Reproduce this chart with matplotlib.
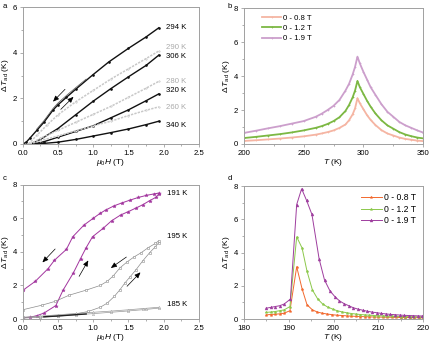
import matplotlib
matplotlib.use("Agg")
import matplotlib.pyplot as plt
from matplotlib.ticker import MultipleLocator

plt.rcParams['font.family'] = ['Liberation Sans', 'DejaVu Sans']
plt.rcParams['mathtext.fontset'] = 'custom'
plt.rcParams['mathtext.rm'] = 'Liberation Sans'
plt.rcParams['mathtext.it'] = 'Liberation Sans:italic'
plt.rcParams['mathtext.bf'] = 'Liberation Sans:bold'

# ---------------- Panel a data ----------------
a_294_H = [0.0, 0.05, 0.1, 0.2, 0.3, 0.43, 0.5, 0.62, 0.75, 1.0, 1.22, 1.5, 1.75, 1.93]
a_294_T = [0.0, 0.08, 0.25, 0.6, 0.95, 1.49, 1.72, 2.05, 2.4, 3.05, 3.6, 4.2, 4.7, 5.1]
a_294d_H = [0.2, 0.3, 0.43, 0.5, 0.62, 0.75, 0.9]
a_294d_T = [0.66, 1.02, 1.56, 1.8, 2.13, 2.47, 2.85]
a_290_H = [0.08, 0.2, 0.35, 0.5, 0.75, 1.0, 1.25, 1.5, 1.75, 1.93]
a_290_T = [0.0, 0.38, 0.85, 1.28, 1.85, 2.35, 2.85, 3.3, 3.75, 4.08]
a_306_H = [0.12, 0.25, 0.5, 0.75, 1.0, 1.25, 1.5, 1.75, 1.93]
a_306_T = [0.0, 0.2, 0.68, 1.28, 1.88, 2.43, 2.95, 3.45, 3.9]
a_280_H = [0.1, 0.25, 0.5, 0.75, 1.0, 1.25, 1.5, 1.75, 1.93]
a_280_T = [0.0, 0.25, 0.6, 0.95, 1.3, 1.65, 2.05, 2.45, 2.75]
a_320_H = [0.15, 0.3, 0.5, 0.75, 1.0, 1.25, 1.5, 1.75, 1.93]
a_320_T = [0.0, 0.1, 0.3, 0.55, 0.8, 1.15, 1.5, 1.9, 2.2]
a_260_H = [0.1, 0.25, 0.5, 0.75, 1.0, 1.25, 1.5, 1.75, 1.93]
a_260_T = [0.0, 0.15, 0.35, 0.58, 0.8, 1.0, 1.25, 1.48, 1.63]
a_340_H = [0.2, 0.5, 0.75, 1.0, 1.25, 1.5, 1.75, 1.93]
a_340_T = [0.0, 0.08, 0.2, 0.35, 0.5, 0.66, 0.85, 1.0]
a_labels = ["294 K", "290 K", "306 K", "280 K", "320 K", "260 K", "340 K"]
a_label_y = [5.1, 4.22, 3.86, 2.73, 2.34, 1.59, 0.8]

# ---------------- Panel b data ----------------
b_T = [200, 210, 220, 230, 240, 250, 260, 265, 270, 275, 280, 285, 288, 291, 293, 295,
       297, 300, 303, 306, 310, 315, 320, 325, 330, 335, 340, 345, 350]
b_08 = [0.18, 0.22, 0.27, 0.32, 0.38, 0.45, 0.55, 0.62, 0.7, 0.8, 0.95, 1.15, 1.4, 1.75, 2.1, 2.7,
        2.4, 2.05, 1.7, 1.42, 1.12, 0.82, 0.62, 0.5, 0.38, 0.3, 0.25, 0.2, 0.17]
b_12 = [0.35, 0.42, 0.5, 0.58, 0.68, 0.8, 0.95, 1.05, 1.18, 1.35, 1.58, 1.95, 2.3, 2.75, 3.15, 3.72,
        3.35, 2.95, 2.55, 2.2, 1.8, 1.4, 1.1, 0.9, 0.7, 0.56, 0.46, 0.38, 0.33]
b_19 = [0.65, 0.78, 0.92, 1.05, 1.2, 1.35, 1.6, 1.78, 2.0, 2.25, 2.6, 3.15, 3.55, 4.1, 4.55, 5.15,
        4.75, 4.25, 3.8, 3.35, 2.9, 2.35, 1.9, 1.6, 1.3, 1.1, 0.95, 0.8, 0.67]
legend_labels = ["0 - 0.8 T", "0 - 1.2 T", "0 - 1.9 T"]

# ---------------- Panel c data ----------------
c191_up_H = [0.0, 0.1, 0.2, 0.3, 0.47, 0.57, 0.72, 0.82, 0.9, 0.99, 1.14, 1.26, 1.39, 1.5, 1.6,
             1.7, 1.8, 1.89, 1.93]
c191_up_T = [0.08, 0.1, 0.2, 0.35, 0.8, 1.7, 2.76, 3.6, 4.25, 4.9, 5.4, 5.85, 6.2, 6.4, 6.6,
             6.8, 7.05, 7.25, 7.45]
c191_dn_H = [1.93, 1.86, 1.75, 1.64, 1.52, 1.41, 1.3, 1.18, 1.1, 1.0, 0.87, 0.71, 0.62, 0.45,
             0.36, 0.18, 0.0]
c191_dn_T = [7.5, 7.45, 7.36, 7.24, 7.08, 6.92, 6.75, 6.5, 6.3, 6.0, 5.6, 4.9, 4.15, 3.5,
             3.0, 2.25, 1.7]
c195_up_H = [0.0, 0.25, 0.5, 0.75, 0.93, 1.1, 1.2, 1.3, 1.38, 1.45, 1.52, 1.6, 1.7, 1.8, 1.88, 1.93]
c195_up_T = [0.1, 0.12, 0.18, 0.3, 0.45, 0.7, 0.95, 1.35, 1.75, 2.15, 2.5, 2.9, 3.45, 3.95, 4.3, 4.55]
c195_dn_H = [1.93, 1.88, 1.78, 1.68, 1.58, 1.48, 1.38, 1.28, 1.2, 1.1, 0.9, 0.66, 0.46, 0.27, 0.0]
c195_dn_T = [4.66, 4.5, 4.25, 3.95, 3.7, 3.4, 3.05, 2.55, 2.25, 2.0, 1.72, 1.42, 1.05, 0.82, 0.55]
c185_up_H = [0.0, 0.25, 0.5, 0.75, 1.0, 1.25, 1.5, 1.75, 1.93]
c185_up_T = [0.05, 0.1, 0.17, 0.25, 0.32, 0.4, 0.48, 0.57, 0.65]
c185_dn_H = [1.93, 1.7, 1.5, 1.25, 1.0, 0.75, 0.5, 0.25, 0.0]
c185_dn_T = [0.7, 0.62, 0.55, 0.47, 0.4, 0.33, 0.25, 0.17, 0.1]
c185_blk_H = [0.3, 0.5, 0.7, 0.9]
c185_blk_T = [0.13, 0.18, 0.24, 0.3]
c_labels = ["191 K", "195 K", "185 K"]
c_label_y = [7.5, 4.92, 0.85]

# ---------------- Panel d data ----------------
d19_T = [185.0, 186.0, 187.0, 188.0, 189.0, 190.4, 191.8, 192.9, 194.0, 195.2, 196.8, 198.0,
         199.2, 200.3, 201.3, 202.4, 203.4, 204.4, 205.4, 206.5, 207.5, 208.5, 209.6, 210.6,
         211.6, 212.6, 213.7, 214.7, 215.7, 216.8, 217.8, 218.8, 219.8]
d19_V = [0.65, 0.7, 0.75, 0.8, 0.9, 1.2, 6.9, 7.85, 7.15, 6.3, 3.62, 2.35,
         1.7, 1.35, 1.1, 0.92, 0.8, 0.68, 0.6, 0.53, 0.47, 0.42, 0.38, 0.34,
         0.31, 0.28, 0.26, 0.24, 0.22, 0.21, 0.2, 0.19, 0.18]
d12_T = [185.0, 186.0, 187.0, 188.0, 189.0, 190.3, 191.8, 193.0, 194.1, 195.3, 196.5, 197.6,
         198.7, 199.8, 200.8, 201.9, 202.9, 204.0, 205.0, 206.0, 207.0, 208.0, 209.0, 210.0,
         211.0, 212.0, 213.0, 214.0, 215.0, 216.0, 217.0, 218.0, 219.0, 220.0]
d12_V = [0.4, 0.42, 0.45, 0.5, 0.55, 0.75, 4.95, 4.28, 2.88, 1.75, 1.2, 0.9,
         0.72, 0.6, 0.5, 0.43, 0.38, 0.33, 0.3, 0.27, 0.25, 0.23, 0.21, 0.2,
         0.19, 0.18, 0.17, 0.16, 0.15, 0.15, 0.14, 0.14, 0.13, 0.13]
d08_T = [185.0, 186.0, 187.0, 188.0, 189.0, 190.3, 191.8, 193.0, 194.1, 195.3, 196.4, 197.5,
         198.6, 199.7, 200.8, 201.9, 203.0, 204.0, 205.0, 206.0, 207.0, 208.0, 209.0, 210.0,
         211.0, 212.0, 213.0, 214.0, 215.0, 216.0, 217.0, 218.0, 219.0, 220.0]
d08_V = [0.25, 0.27, 0.29, 0.31, 0.35, 0.5, 3.15, 1.82, 0.86, 0.55, 0.42, 0.35,
         0.3, 0.26, 0.23, 0.21, 0.19, 0.17, 0.16, 0.15, 0.14, 0.13, 0.12, 0.12,
         0.11, 0.11, 0.1, 0.1, 0.09, 0.09, 0.09, 0.08, 0.08, 0.08]

FS = 5.6
SPINE = '#a0a0a0'

fig = plt.figure(figsize=(4.33, 3.47), dpi=100)
W, H = 433.0, 347.0


def mkax(l, r, t, b):
    return fig.add_axes([l / W, 1 - b / H, (r - l) / W, (b - t) / H])


def style(ax):
    for s in ax.spines.values():
        s.set_color(SPINE)
        s.set_linewidth(0.7)
    ax.tick_params(which='both', direction='out', color=SPINE, labelsize=FS, pad=1.5, width=0.6)
    ax.tick_params(which='major', length=2.5)
    ax.tick_params(which='minor', length=1.5)


axa = mkax(22.7, 199, 7.3, 144)
axb = mkax(243.7, 423.3, 8.3, 144)
axc = mkax(22.7, 199, 184.7, 319)
axd = mkax(243.7, 423.3, 186.3, 319)
for ax in (axa, axb, axc, axd):
    style(ax)

ylab = r'$\Delta\,T_{\rm ad}$ (K)'
xlabH = r'$\mu_0H$ (T)'
xlabT = r'$T$ (K)'

# ---- Panel a ----
blk = dict(color='#111111', lw=1.0, marker='o', ms=0.9, mfc='#111111', mec='#111111')
gry = dict(color='#c8c8c8', lw=1.1, ls=(0, (1.5, 0.8)), marker='o', ms=1.0, mfc='white', mec='#bdbdbd', mew=0.4)
axa.plot(a_294_H, a_294_T, **blk)
axa.plot(a_294d_H, a_294d_T, color='#555555', lw=0.5)
axa.plot(a_290_H, a_290_T, **gry)
axa.plot(a_306_H, a_306_T, **blk)
axa.plot(a_280_H, a_280_T, **gry)
axa.plot(a_320_H, a_320_T, **blk)
axa.plot(a_260_H, a_260_T, **gry)
axa.plot(a_340_H, a_340_T, **blk)
for lab, yv in zip(a_labels, a_label_y):
    col = '#aaaaaa' if lab in ("290 K", "280 K", "260 K") else 'black'
    axa.text(2.03, yv, lab, fontsize=FS, color=col, va='center', ha='left')
arr = dict(arrowstyle='-|>,head_length=0.35,head_width=0.15', lw=0.5, color='black', shrinkA=0, shrinkB=0)
axa.annotate('', xy=(0.43, 1.86), xytext=(0.60, 2.40), arrowprops=arr)
axa.annotate('', xy=(0.72, 2.07), xytext=(0.54, 1.52), arrowprops=arr)
axa.set_xlim(0, 2.5)
axa.set_ylim(0, 6)
axa.xaxis.set_major_locator(MultipleLocator(0.5))
axa.xaxis.set_minor_locator(MultipleLocator(0.25))
axa.yaxis.set_major_locator(MultipleLocator(2))
axa.yaxis.set_minor_locator(MultipleLocator(1))
axa.xaxis.set_major_formatter(matplotlib.ticker.FormatStrFormatter('%.1f'))
axa.set_xlabel(xlabH, fontsize=FS + 0.4, labelpad=0.5)
axa.set_ylabel(ylab, fontsize=FS + 0.4, labelpad=1)

# ---- Panel b ----
cb = ['#f5b5a3', '#7cb843', '#cc9fcc']
for vals, c, lab in zip([b_08, b_12, b_19], cb, legend_labels):
    axb.plot(b_T, vals, color=c, lw=1.3, marker='+', ms=1.5, mew=0.5, label=lab)
axb.set_xlim(200, 350)
axb.set_ylim(0, 8)
axb.xaxis.set_major_locator(MultipleLocator(50))
axb.xaxis.set_minor_locator(MultipleLocator(25))
axb.yaxis.set_major_locator(MultipleLocator(2))
axb.yaxis.set_minor_locator(MultipleLocator(1))
axb.set_xlabel(xlabT, fontsize=FS + 0.4, labelpad=0.5)
axb.set_ylabel(ylab, fontsize=FS + 0.4, labelpad=1)
lg = axb.legend(loc='upper left', fontsize=FS, frameon=False, handlelength=2.4, handletextpad=0.3,
                labelspacing=0.35, borderaxespad=0.4, bbox_to_anchor=(0.07, 1.0))

# ---- Panel c ----
pc = '#a2359e'
p191 = dict(color=pc, lw=0.7, marker='*', ms=2.6, mfc=pc, mec=pc, mew=0.3)
axc.plot(c191_up_H, c191_up_T, **p191)
axc.plot(c191_dn_H, c191_dn_T, **p191)
g195 = dict(color='#8c8c8c', lw=0.5, marker='s', ms=1.8, mfc='white', mec='#8c8c8c', mew=0.4)
axc.plot(c195_up_H, c195_up_T, **g195)
axc.plot(c195_dn_H, c195_dn_T, **g195)
g185 = dict(color='#999999', lw=0.5, marker='^', ms=1.6, mfc='white', mec='#999999', mew=0.35)
axc.plot(c185_up_H, c185_up_T, **g185)
axc.plot(c185_dn_H, c185_dn_T, **g185)
axc.plot(c185_blk_H, c185_blk_T, color='#222222', lw=1.0)
for lab, yv in zip(c_labels, c_label_y):
    axc.text(2.04, yv, lab, fontsize=FS, color='black', va='center', ha='left')
axc.annotate('', xy=(0.28, 3.37), xytext=(0.46, 4.17), arrowprops=arr)
axc.annotate('', xy=(0.93, 3.49), xytext=(0.80, 2.54), arrowprops=arr)
axc.annotate('', xy=(1.25, 3.04), xytext=(1.47, 3.69), arrowprops=arr)
axc.annotate('', xy=(1.67, 2.78), xytext=(1.48, 1.95), arrowprops=arr)
axc.set_xlim(0, 2.5)
axc.set_ylim(0, 8)
axc.xaxis.set_major_locator(MultipleLocator(0.5))
axc.xaxis.set_minor_locator(MultipleLocator(0.25))
axc.yaxis.set_major_locator(MultipleLocator(2))
axc.yaxis.set_minor_locator(MultipleLocator(1))
axc.xaxis.set_major_formatter(matplotlib.ticker.FormatStrFormatter('%.1f'))
axc.set_xlabel(xlabH, fontsize=FS + 0.4, labelpad=0.5)
axc.set_ylabel(ylab, fontsize=FS + 0.4, labelpad=1)

# ---- Panel d ----
cd = ['#f2692e', '#8cc84b', '#9e3d9e']
mk = ['*', '*', '^']
for (tt, vv), c, m, lab in zip([(d08_T, d08_V), (d12_T, d12_V), (d19_T, d19_V)], cd, mk, legend_labels):
    axd.plot(tt, vv, color=c, lw=0.7, marker=m, ms=2.1, mfc=c, mec=c, mew=0.3, label=lab)
axd.set_xlim(180, 220)
axd.set_ylim(0, 8)
axd.xaxis.set_major_locator(MultipleLocator(10))
axd.xaxis.set_minor_locator(MultipleLocator(5))
axd.yaxis.set_major_locator(MultipleLocator(2))
axd.yaxis.set_minor_locator(MultipleLocator(1))
axd.set_xlabel(xlabT, fontsize=FS + 0.4, labelpad=0.5)
axd.set_ylabel(ylab, fontsize=FS + 0.4, labelpad=1)
axd.legend(loc='upper right', fontsize=FS + 0.6, frameon=False, handlelength=2.4, handletextpad=0.3,
           labelspacing=0.3, borderaxespad=0.4)

# panel letters
for lt, (x, y) in zip("abcd", [(3, 6), (228, 6), (3, 179), (228, 179)]):
    fig.text(x / W, 1 - y / H, lt, fontsize=FS, ha='left', va='center')

fig.savefig("out.png", dpi=100)
